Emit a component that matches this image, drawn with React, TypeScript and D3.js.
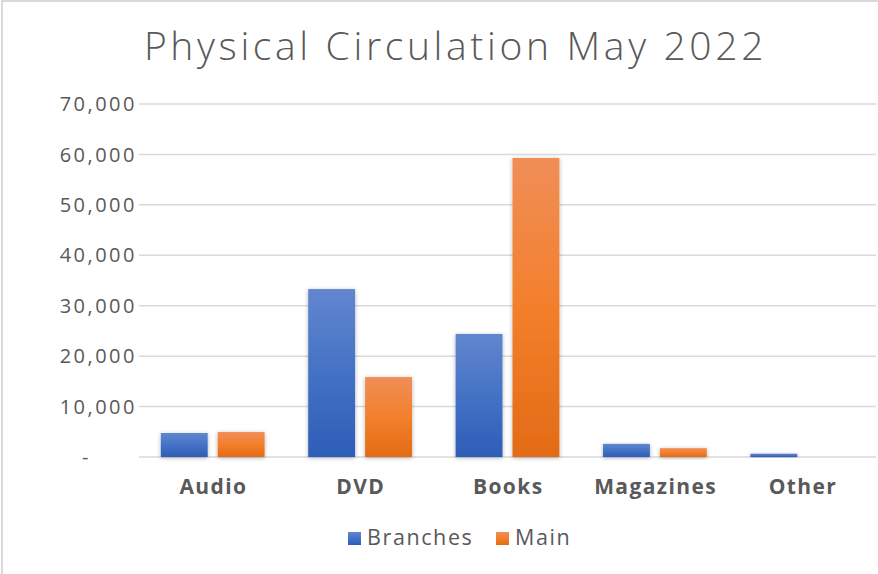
import React from "react";
import * as d3 from "d3";

const categories = ["Audio", "DVD", "Books", "Magazines", "Other"];
const seriesNames = ["Branches", "Main"];
const branches = [4760, 33300, 24400, 2600, 650];
const main = [4950, 15850, 59300, 1750, 0];
const yTicks = [0, 10000, 20000, 30000, 40000, 50000, 60000, 70000];
const title = "Physical Circulation May 2022";

const W = 878;
const H = 574;
const FONT = "'Open Sans', 'Noto Sans', sans-serif";
const TXT = "#595959";

export default function App() {
  const x0 = d3.scaleBand().domain(categories).range([139, 876]).paddingInner(0).paddingOuter(0);
  const y = d3.scaleLinear().domain([0, 70000]).range([457, 104]);
  const band = x0.bandwidth();
  const barW = band * 0.318;
  const gap = band * 0.068;
  const groupW = barW * 2 + gap;
  const fmt = (v: number) => (v === 0 ? "-" : d3.format(",")(v));
  const data = [branches, main];
  const grads = ["gBlue", "gOrange"];

  return (
    <svg width={W} height={H} style={{ position: "absolute", left: 0, top: 0, background: "#fff" }}>
      <defs>
        <linearGradient id="gBlue" x1="0" y1="0" x2="0" y2="1">
          <stop offset="0%" stopColor="#6286cf" />
          <stop offset="50%" stopColor="#4472c4" />
          <stop offset="100%" stopColor="#2d5db8" />
        </linearGradient>
        <linearGradient id="gOrange" x1="0" y1="0" x2="0" y2="1">
          <stop offset="0%" stopColor="#f08e58" />
          <stop offset="50%" stopColor="#f37f2b" />
          <stop offset="100%" stopColor="#e36b16" />
        </linearGradient>
        <filter id="shadow" x="-30%" y="-30%" width="160%" height="160%">
          <feDropShadow dx="0" dy="1" stdDeviation="2.2" floodColor="#000" floodOpacity="0.3" />
        </filter>
      </defs>
      <rect x={2} y={1} width={W + 10} height={H + 10} fill="#fff" stroke="#d9d9d9" strokeWidth={2} />
      <text
        x={455.5}
        y={60}
        textAnchor="middle"
        fontFamily={FONT}
        fontWeight={300}
        fontSize={39}
        letterSpacing={3.65}
        fill={TXT}
      >
        {title}
      </text>
      {yTicks.map((t) => (
        <g key={t}>
          <line x1={139} x2={876} y1={y(t)} y2={y(t)} stroke="#d9d9d9" strokeWidth={1.5} />
          <text
            x={t === 0 ? 91 : 137}
            y={y(t)}
            dy="0.36em"
            textAnchor="end"
            fontFamily={FONT}
            fontSize={20}
            letterSpacing={2.5}
            fill={TXT}
          >
            {fmt(t)}
          </text>
        </g>
      ))}
      {categories.map((c, i) => {
        const gx = (x0(c) as number) + (band - groupW) / 2;
        return (
          <g key={c}>
            {data.map((s, j) =>
              s[i] > 0 ? (
                <rect
                  key={j}
                  x={gx + j * (barW + gap)}
                  y={y(s[i])}
                  width={barW}
                  height={y(0) - y(s[i])}
                  fill={`url(#${grads[j]})`}
                  filter="url(#shadow)"
                />
              ) : null
            )}
            <text
              x={(x0(c) as number) + band / 2 + 0.7}
              y={494}
              textAnchor="middle"
              fontFamily={FONT}
              fontWeight={700}
              fontSize={21}
              letterSpacing={1.4}
              fill={TXT}
            >
              {c}
            </text>
          </g>
        );
      })}
      {seriesNames.map((n, j) => {
        const lx = [348, 496][j];
        return (
          <g key={n}>
            <rect x={lx} y={532} width={13} height={13} fill={`url(#${grads[j]})`} />
            <text x={lx + 19} y={545} fontFamily={FONT} fontSize={21.5} letterSpacing={1.6} fill={TXT}>
              {n}
            </text>
          </g>
        );
      })}
    </svg>
  );
}
